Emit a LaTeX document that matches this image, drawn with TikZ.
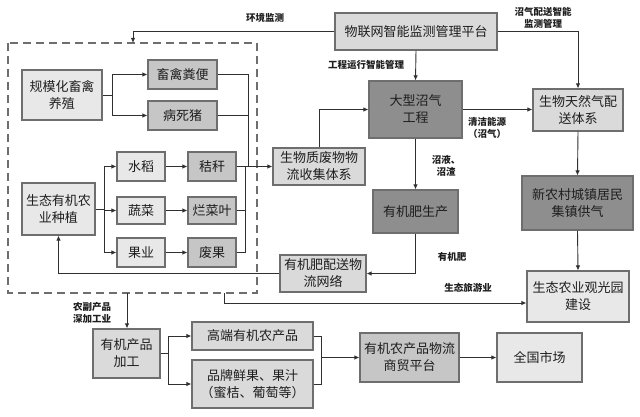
\documentclass[tikz,border=0pt]{standalone}
\usepackage{fontspec}
\setmainfont{Noto Sans CJK SC}
\newfontfamily\cjk{Noto Sans CJK SC}
\usetikzlibrary{arrows.meta,calc}
\definecolor{boxdark}{HTML}{8E8E8E}
\definecolor{boxmed}{HTML}{C6C6C6}
\definecolor{boxlight}{HTML}{DADADA}
\definecolor{boxlite}{HTML}{E8E8E8}
\definecolor{edgegray}{HTML}{6E6E6E}
\definecolor{linegray}{HTML}{303030}
\definecolor{txt}{HTML}{1E1E1E}
\tikzset{
  box/.style={draw=edgegray, line width=1.1pt, rectangle, inner sep=0pt, align=center,
    text=txt, font=\cjk\fontsize{13}{17}\selectfont},
  dk/.style={box, fill=boxdark},
  md/.style={box, fill=boxmed},
  lt/.style={box, fill=boxlight},
  lw/.style={box, fill=boxlite},
  conn/.style={draw=linegray, line width=0.9pt},
  arr/.style={conn, -{Latex[length=5pt,width=4.5pt]}},
  lbl/.style={text=txt, align=center, inner sep=0pt, font=\cjk\bfseries\fontsize{9.5}{12}\selectfont},
  dashbox/.style={draw=edgegray, line width=1.4pt, dash pattern=on 8pt off 5pt}
}
\begin{document}
\begin{tikzpicture}[x=1pt,y=-1pt]
\useasboundingbox[fill=white] (0,0) rectangle (640,417);
% dashed region
\draw[dashbox] (8,43) rectangle (257,293);
\coordinate (dtop) at (133,43);
\coordinate (dbotA) at (127,293);
\coordinate (dbotB) at (224,293);

% nodes
\node[lw, minimum width=80pt, minimum height=50pt] (gm) at (62,95) {规模化畜禽\\养殖};
\node[md, minimum width=69pt, minimum height=29pt] (fb) at (182.5,74.5) {畜禽粪便};
\node[md, minimum width=69pt, minimum height=29pt] (bs) at (182.5,115.5) {病死猪};
\node[lw, minimum width=73pt, minimum height=52pt] (zz) at (58.5,209) {生态有机农\\业种植};
\node[lw, minimum width=48pt, minimum height=29pt] (sd) at (141,166.5) {水稻};
\node[md, minimum width=48pt, minimum height=29pt] (jg) at (212,166.5) {秸秆};
\node[lw, minimum width=48pt, minimum height=27pt] (sc) at (141,210.5) {蔬菜};
\node[md, minimum width=48pt, minimum height=27pt] (lc) at (212,210.5) {烂菜叶};
\node[lw, minimum width=48pt, minimum height=29pt] (gy) at (141,252.5) {果业};
\node[md, minimum width=48pt, minimum height=29pt] (fg) at (212,252.5) {废果};

\node[lt, minimum width=92pt, minimum height=37pt] (sw) at (319,166.5) {生物质废物物\\流收集体系};
\node[lt, minimum width=162pt, minimum height=37pt] (wl) at (416,31.5) {物联网智能监测管理平台};
\node[dk, minimum width=93pt, minimum height=57pt] (zq) at (415.5,109.5) {大型沼气\\工程};
\node[lt, minimum width=90pt, minimum height=42pt] (tr) at (578,110) {生物天然气配\\送体系};
\node[dk, minimum width=85pt, minimum height=43pt] (yf) at (415.5,211.5) {有机肥生产};
\node[dk, minimum width=111pt, minimum height=54pt] (xn) at (577.5,203) {新农村城镇居民\\集镇供气};
\node[lt, minimum width=86pt, minimum height=37pt] (ps) at (323,273.5) {有机肥配送物\\流网络};
\node[lw, minimum width=102pt, minimum height=51pt] (gg) at (578,296.5) {生态农业观光园\\建设};

\node[lt, minimum width=67pt, minimum height=49pt] (jk) at (126.5,353.5) {有机产品\\加工};
\node[lt, minimum width=121pt, minimum height=28pt] (gd) at (252.5,336) {高端有机农产品};
\node[lt, minimum width=121pt, minimum height=48pt] (pp) at (252.5,384) {品牌鲜果、果汁\\（蜜桔、葡萄等）};
\node[md, minimum width=99pt, minimum height=49pt] (sm) at (409.5,357.5) {有机农产品物流\\商贸平台};
\node[lw, minimum width=85pt, minimum height=49pt] (qg) at (539.5,357.5) {全国市场};

% labels
\node[lbl] (l1) at (265,18) {环境监测};
\node[lbl] (l2) at (366,65) {工程运行智能管理};
\node[lbl] (l3) at (543,18) {沼气配送智能\\监测管理};
\node[lbl] (l4) at (487,128) {清洁能源\\（沼气）};
\node[lbl] (l5) at (446,166) {沼液、\\沼渣};
\node[lbl] (l6) at (452,257) {有机肥};
\node[lbl] (l7) at (468,288) {生态旅游业};
\node[lbl] (l8) at (92,312.5) {农副产品\\深加工业};

% connectors: top platform
\draw[arr] (wl.west) -| (dtop);
\draw[arr] (wl.south) -- (zq.north);
\draw[arr] (wl.east) -| (tr.north);
\draw[arr] (sw.north) |- (zq.west);
\draw[arr] (zq.east) -- (zq.east -| tr.west);
\draw[arr] (zq.south) -- (yf.north);
\draw[arr] (tr.south) -- (xn.north);
\draw[arr] (xn.south) -- (gg.north);
\draw[arr] (yf.south) |- (ps.east);
\draw[arr] (ps.west) -| (zz.south);
\draw[arr] (dbotB) |- ($(gg.west)+(0,6.5)$);
\draw[arr] (dbotA) -- (dbotA |- jk.north);

% livestock branch
\coordinate (b1) at (112,95);
\draw[conn] (gm.east) -- (b1);
\draw[arr] (b1) |- (fb.west);
\draw[arr] (b1) |- (bs.west);

% crop branch
\coordinate (b2) at (104,209);
\draw[conn] (zz.east) -- (b2);
\draw[arr] (b2) |- (sd.west);
\draw[arr] (b2) |- (sc.west);
\draw[arr] (b2) |- (gy.west);
\draw[arr] (sd.east) -- (jg.west);
\draw[arr] (sc.east) -- (lc.west);
\draw[arr] (gy.east) -- (fg.west);

% waste collection
\coordinate (c1) at (248,166.5);
\coordinate (c2) at (245,166.5);
\draw[conn] (fb.east) -| (c1);
\draw[conn] (bs.east) -| (c1);
\draw[conn] (lc.east) -| (c2);
\draw[conn] (fg.east) -| (c2);
\draw[arr] (jg.east) -- (sw.west);

% processing branch
\coordinate (b3) at (168,353.5);
\draw[conn] (jk.east) -- (b3);
\draw[arr] (b3) |- (gd.west);
\draw[arr] (b3) |- (pp.west);
\coordinate (m1) at (321,357.5);
\draw[conn] (gd.east) -| (m1);
\draw[conn] (pp.east) -| (m1);
\draw[arr] (m1) -- (sm.west);
\draw[arr] (sm.east) -- (qg.west);
\end{tikzpicture}
\end{document}
